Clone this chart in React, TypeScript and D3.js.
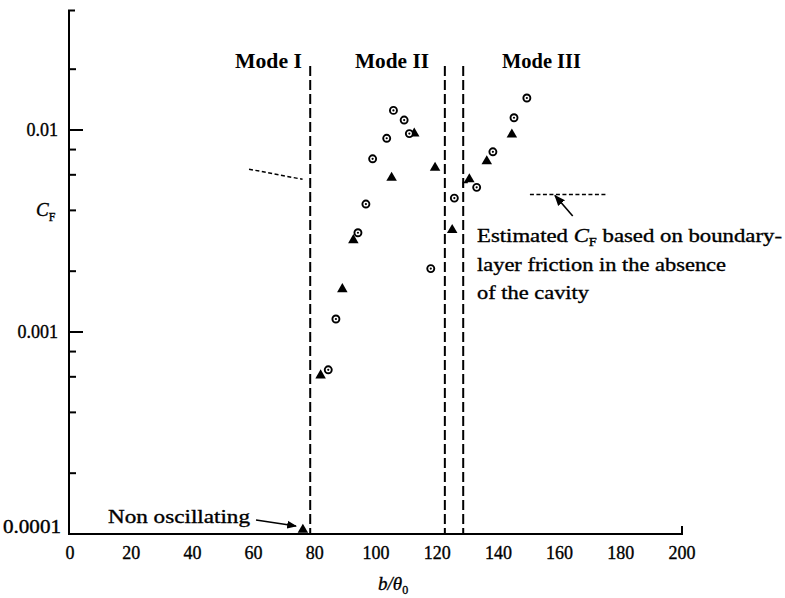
import React from 'react';
import * as d3 from 'd3';

// Horizontal axis ticks (b/theta0)
const xTicks = [0, 20, 40, 60, 80, 100, 120, 140, 160, 180, 200];
// Vertical axis (C_F, log scale)
const yMajor = [0.01, 0.001, 0.0001];
const yMajorLabels = ['0.01', '0.001', '0.0001'];
const yMinor = [0.02, 0.008, 0.006, 0.004, 0.002, 0.0008, 0.0006, 0.0004, 0.0002];

// Measured drag coefficient, circle-dot symbols
const circleB = [105.7, 109.2, 110.9, 103.5, 98.9, 96.7, 94.1, 125.6, 117.9, 132.9, 86.9, 84.4, 138.2, 145.1, 149.3];
const circleCF = [0.0125, 0.0112, 0.0096, 0.0091, 0.0072, 0.0043, 0.0031, 0.0046, 0.00206, 0.0052, 0.00116, 0.00065, 0.0078, 0.0115, 0.0144];

// Measured drag coefficient, solid triangles
const triangleB = [112.5, 119.3, 105.1, 92.6, 89.0, 124.9, 130.5, 136.2, 81.9, 144.4, 76.1];
const triangleCF = [0.0096, 0.0065, 0.0058, 0.00285, 0.00163, 0.0032, 0.0057, 0.0070, 0.00061, 0.0095, 0.000105];

// Mode boundaries
const modeBounds = [78.5, 122.5, 128.5];

// Boundary-layer friction estimate (short dashed segments)
const estLeftB = [58.5, 76];
const estLeftCF = [0.0064, 0.0057];
const estRightB = [150.3, 175.8];
const estRightCF = [0.0048, 0.0048];

const FONT = '"Liberation Serif", "Times New Roman", serif';

export default function App() {
  const x = d3.scaleLinear().domain([0, 200]).range([70, 682]);
  const y = d3.scaleLog().domain([0.0001, 0.01]).range([534, 130]);
  const line = d3.line<[number, number]>().x((d) => x(d[0])).y((d) => y(d[1]));
  const tri = d3.symbol(d3.symbolTriangle, 48)();

  const x0 = x(0);
  const yBottom = y(0.0001);
  const yTop = y(0.039);

  // light outline that gives printed text a little more weight
  const ink = { stroke: '#000', strokeWidth: 0.35 };

  return (
    <svg
      width={785}
      height={598}
      style={{ position: 'absolute', left: 0, top: 0, background: '#fff' }}
      fontFamily={FONT}
    >
      {/* axes */}
      <g stroke="#000" strokeWidth={2} fill="none">
        <path d={`M${x0 + 5},${yTop} H${x0 - 1} V${yBottom} H${x(200)} V${yBottom - 8}`} />
        {yMajor.slice(0, 2).map((v) => (
          <line key={v} x1={x0} x2={x0 + 13} y1={y(v)} y2={y(v)} />
        ))}
        {yMinor.map((v) => (
          <line key={v} x1={x0} x2={x0 + 6} y1={y(v)} y2={y(v)} />
        ))}
      </g>

      {/* y tick labels */}
      <g fontSize={18} textAnchor="end" fill="#000" {...ink}>
        {yMajor.map((v, i) =>
          i === 2 ? (
            <text key={v} x={3} y={y(v) - 1} textAnchor="start" textLength={58} lengthAdjust="spacingAndGlyphs">
              {yMajorLabels[i]}
            </text>
          ) : (
            <text key={v} x={58} y={y(v) + 6}>
              {yMajorLabels[i]}
            </text>
          )
        )}
      </g>

      {/* x tick labels */}
      <g fontSize={18} textAnchor="middle" fill="#000" {...ink}>
        {xTicks.map((v) => (
          <text key={v} x={x(v)} y={559}>
            {v}
          </text>
        ))}
      </g>

      {/* axis titles */}
      <text x={36} y={216} fontSize={19} fontStyle="italic" {...ink}>
        C
        <tspan fontSize={12} fontStyle="normal" dy={5}>F</tspan>
      </text>
      <text x={378} y={590} fontSize={19} fontStyle="italic" {...ink}>
        b/θ
        <tspan fontSize={12} fontStyle="normal" dy={4}>0</tspan>
      </text>

      {/* mode boundaries */}
      <g stroke="#000" strokeWidth={2} strokeDasharray="10 4">
        {modeBounds.map((b) => (
          <line key={b} x1={x(b)} x2={x(b)} y1={66} y2={yBottom} />
        ))}
      </g>
      {/* short leader at the third-mode boundary */}
      <path d={`M${x(128.5)},${y(0.0052)} V${y(0.0055)} H${x(130)}`} stroke="#000" strokeWidth={1.5} fill="none" />

      {/* mode labels */}
      <g fontSize={20} fontWeight="bold">
        <text x={235} y={68} textLength={67} lengthAdjust="spacingAndGlyphs">Mode I</text>
        <text x={355} y={68} textLength={74} lengthAdjust="spacingAndGlyphs">Mode II</text>
        <text x={502} y={68} textLength={79} lengthAdjust="spacingAndGlyphs">Mode III</text>
      </g>

      {/* estimated friction levels */}
      <g stroke="#000" strokeWidth={1.5} strokeDasharray="4 2.5" fill="none">
        <path d={line(estLeftB.map((b, i) => [b, estLeftCF[i]]) as [number, number][]) || ''} />
        <path d={line(estRightB.map((b, i) => [b, estRightCF[i]]) as [number, number][]) || ''} />
      </g>

      {/* data: triangles */}
      <g fill="#000">
        {triangleB.map((b, i) => (
          <path key={i} d={tri || ''} transform={`translate(${x(b)},${y(triangleCF[i])})`} />
        ))}
      </g>

      {/* data: circle with centre dot */}
      <g>
        {circleB.map((b, i) => (
          <g key={i} transform={`translate(${x(b)},${y(circleCF[i])})`}>
            <circle r={3.5} fill="#fff" stroke="#000" strokeWidth={1.9} />
            <circle r={1.1} fill="#000" />
          </g>
        ))}
      </g>

      {/* annotations */}
      <defs>
        <marker id="ah" viewBox="0 0 10 10" refX={9} refY={5} markerWidth={7} markerHeight={7} orient="auto">
          <path d="M0,1 L10,5 L0,9 Z" fill="#000" />
        </marker>
      </defs>
      <line x1={572.7} y1={216} x2={555} y2={195.5} stroke="#000" strokeWidth={1.6} markerEnd="url(#ah)" />
      <g fontSize={19} {...ink}>
        <text x={477} y={242} textLength={305} lengthAdjust="spacingAndGlyphs">
          Estimated <tspan fontStyle="italic">C</tspan>
          <tspan fontSize={12} dy={4}>F</tspan>
          <tspan dy={-4}> based on boundary-</tspan>
        </text>
        <text x={477} y={271} textLength={249} lengthAdjust="spacingAndGlyphs">layer friction in the absence</text>
        <text x={477} y={299} textLength={112} lengthAdjust="spacingAndGlyphs">of the cavity</text>
        <text x={108} y={523} textLength={142} lengthAdjust="spacingAndGlyphs">Non oscillating</text>
      </g>
      <line x1={256} y1={520} x2={296} y2={526} stroke="#000" strokeWidth={1.4} markerEnd="url(#ah)" />
    </svg>
  );
}
